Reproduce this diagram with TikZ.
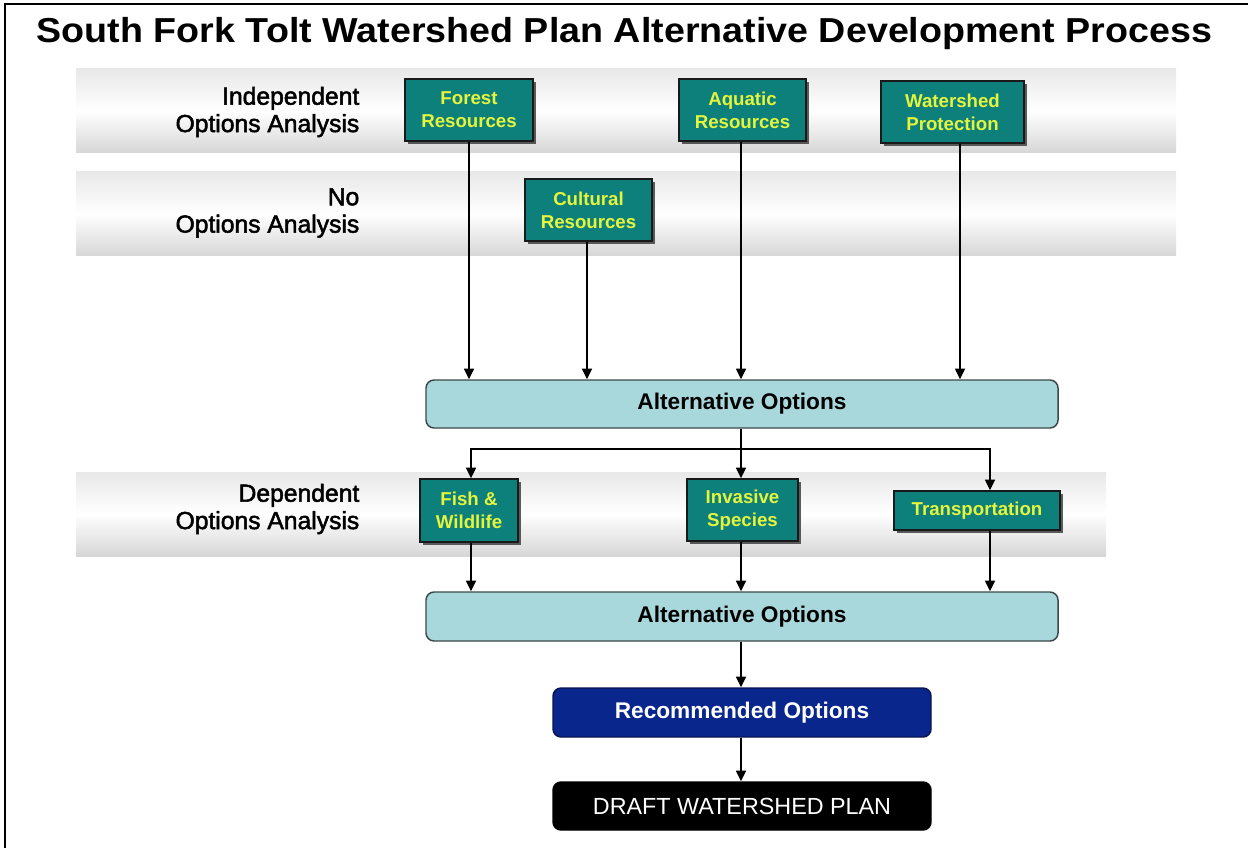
\documentclass[tikz,border=0pt]{standalone}
\usepackage{fontspec}
\setmainfont{Liberation Sans}
\newfontfamily\labfont[FakeBold=2]{Liberation Sans}
\usetikzlibrary{arrows.meta,shadows}
\definecolor{tealbox}{RGB}{14,128,124}
\definecolor{tealtext}{RGB}{228,245,60}
\definecolor{altfill}{RGB}{168,216,220}
\definecolor{altline}{RGB}{60,72,74}
\definecolor{recfill}{RGB}{8,38,140}
\definecolor{recline}{RGB}{10,20,80}
\tikzset{
  band/.style={top color=black!9, bottom color=black!16, middle color=white, draw=none},
  lab/.style={anchor=east, align=right, font=\labfont\fontsize{18.5}{20.5}\selectfont, text=black},
  teal/.style={draw=black!90, line width=1.1pt, fill=tealbox, text=tealtext,
    font=\fontsize{14}{17.5}\selectfont\bfseries, align=center, inner sep=0pt,
    drop shadow={shadow xshift=2.2pt, shadow yshift=-2.2pt, fill=black!75, opacity=0.85}},
  altbox/.style={draw=altline, line width=1.1pt, fill=altfill, rounded corners=6pt,
    minimum width=474pt, inner sep=0pt, font=\fontsize{17}{20}\selectfont\bfseries},
  recbox/.style={draw=recline, line width=1.1pt, fill=recfill, text=white, rounded corners=6pt,
    minimum width=283.5pt, minimum height=36.75pt, inner sep=0pt, font=\fontsize{17}{20}\selectfont\bfseries},
  draftbox/.style={draw=black, line width=1.1pt, fill=black, text=white, rounded corners=6pt,
    minimum width=283.5pt, minimum height=36pt, inner sep=0pt, font=\fontsize{17.5}{20}\selectfont},
  arr/.style={draw=black, line width=1.1pt, -{Triangle[width=7.5pt,length=8pt]}},
  conn/.style={draw=black, line width=1.1pt},
  frame/.style={draw=black, line width=1.6pt}
}
\begin{document}
\begin{tikzpicture}[x=0.75pt,y=-0.75pt]
\useasboundingbox (0,0) rectangle (1248,848);
% frame
\draw[frame] (5,848) -- (5,4) -- (1248,4);
% title
\node[font=\fontsize{26}{28}\selectfont\bfseries] (title) at (624.5,34) {\scalebox{1.086}[1]{South Fork Tolt Watershed Plan Alternative Development Process}};
% bands
\path[band] (76,69) rectangle (1176,153);
\path[band] (76,172) rectangle (1176,256);
\path[band] (76,472) rectangle (1106,556);
% labels
\node[lab] (lab1) at (364,112) {Independent\\Options Analysis};
\node[lab] (lab2) at (364,213) {No\\Options Analysis};
\node[lab] (lab3) at (364,509) {Dependent\\Options Analysis};
% teal boxes
\node[teal, minimum width=96pt, minimum height=46.5pt] (forest) at (469,110) {Forest\\Resources};
\node[teal, minimum width=95.25pt, minimum height=46.5pt] (aquatic) at (742.5,110) {Aquatic\\Resources};
\node[teal, minimum width=107.25pt, minimum height=46.5pt] (wsp) at (952.5,112) {Watershed\\Protection};
\node[teal, minimum width=95.25pt, minimum height=46.5pt] (cultural) at (588.5,210) {Cultural\\Resources};
\node[teal, minimum width=73.5pt, minimum height=47.25pt] (fish) at (469,510.5) {Fish \&\\Wildlife};
\node[teal, minimum width=83.25pt, minimum height=46.5pt] (invasive) at (742.5,510) {Invasive\\Species};
\node[teal, minimum width=124.5pt, minimum height=29.25pt] (transport) at (977,510.5) {Transportation};
% main boxes
\node[altbox, minimum height=36pt] (alt1) at (742,404) {\raisebox{-2pt}{Alternative Options}};
\node[altbox, minimum height=36.75pt] (alt2) at (742,616.5) {\raisebox{-2pt}{Alternative Options}};
\node[recbox] (rec) at (742,712.5) {Recommended Options};
\node[draftbox] (draft) at (742,806) {DRAFT WATERSHED PLAN};
% coordinates for arrow columns
\coordinate (c1) at (469,380);
\coordinate (c2) at (587,380);
\coordinate (c3) at (741,380);
\coordinate (c4) at (960,380);
\coordinate (s1) at (471,449);
\coordinate (s2) at (741,449);
\coordinate (s3) at (990,449);
\coordinate (d1) at (471,592);
\coordinate (d2) at (741,592);
\coordinate (d3) at (990,592);
% arrows into alt1
\draw[arr] (forest.south -| c1) -- (c1 |- alt1.north);
\draw[arr] (cultural.south -| c2) -- (c2 |- alt1.north);
\draw[arr] (aquatic.south -| c3) -- (c3 |- alt1.north);
\draw[arr] (wsp.south -| c4) -- (c4 |- alt1.north);
% branch
\draw[conn] (alt1.south -| s2) -- (s2);
\draw[arr] (s2) -- (s1) -- (s1 |- fish.north);
\draw[arr] (s2) -- (invasive.north -| s2);
\draw[arr] (s2) -- (s3) -- (s3 |- transport.north);
% into alt2
\draw[arr] (fish.south -| d1) -- (d1 |- alt2.north);
\draw[arr] (invasive.south -| d2) -- (d2 |- alt2.north);
\draw[arr] (transport.south -| d3) -- (d3 |- alt2.north);
% down the chain
\draw[arr] (alt2.south -| d2) -- (rec.north -| d2);
\draw[arr] (rec.south -| d2) -- (draft.north -| d2);
\end{tikzpicture}
\end{document}
